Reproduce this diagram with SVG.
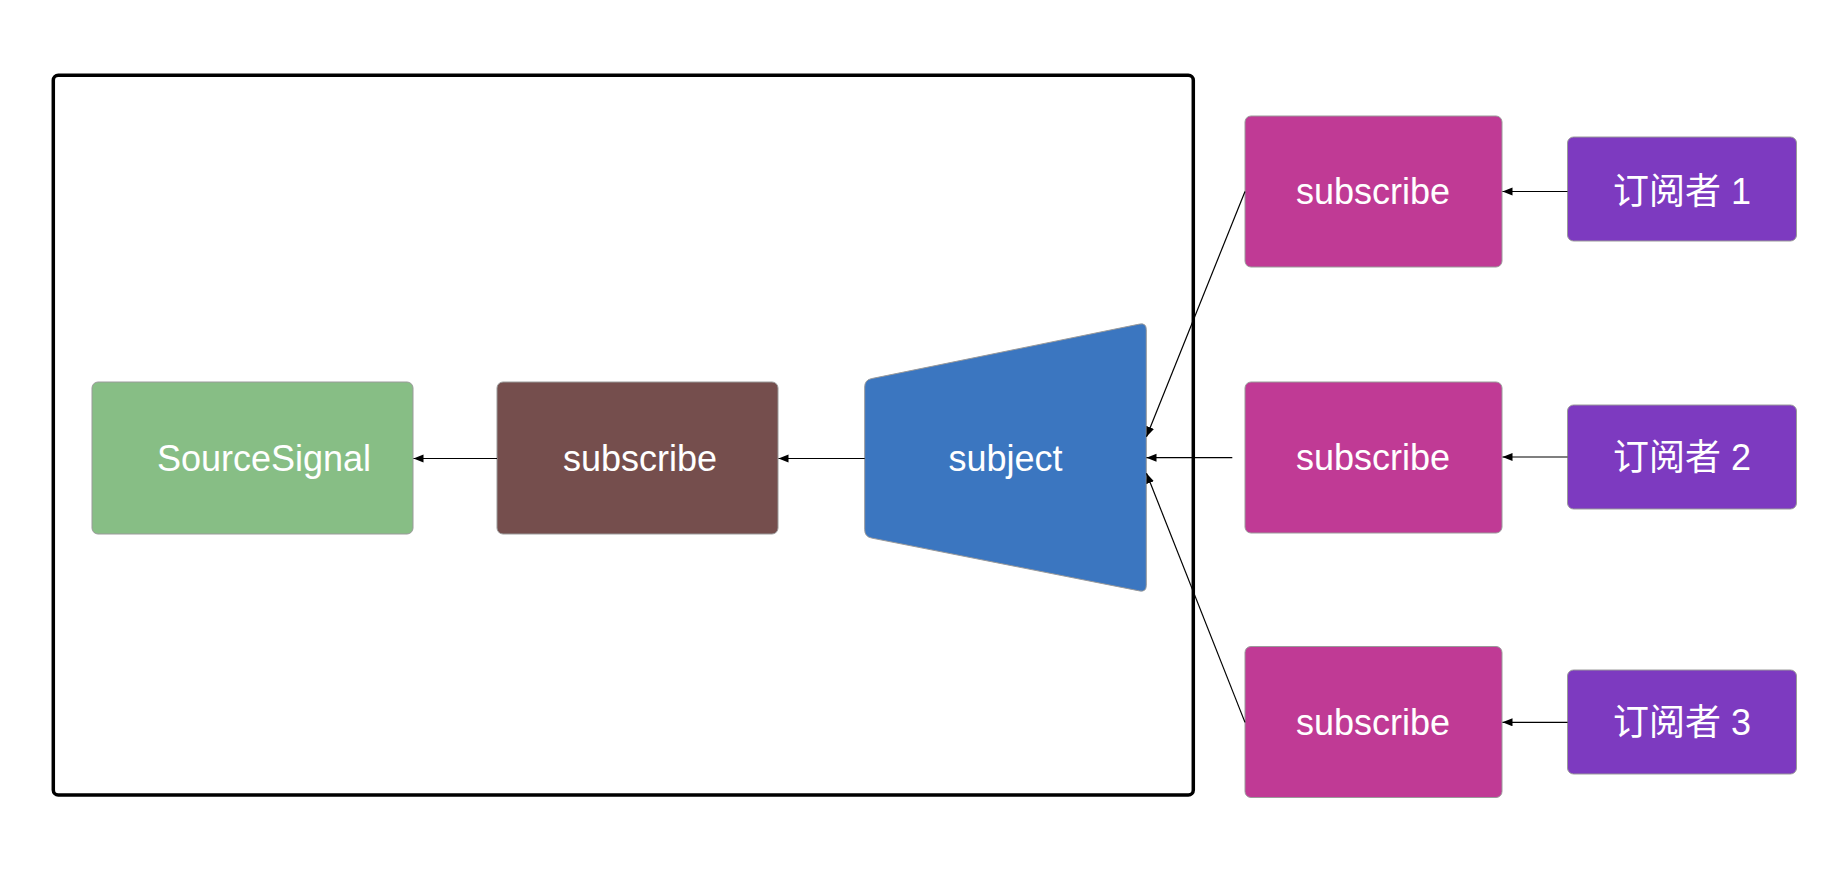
<svg xmlns="http://www.w3.org/2000/svg" width="1830" height="884" viewBox="0 0 1830 884">
<style>
.node{stroke:#9a9a9a;stroke-width:1}
.lbl{font-family:"Liberation Sans","Noto Sans CJK SC",sans-serif;font-size:36px;fill:#ffffff;text-anchor:middle}
.edge{stroke:#000;stroke-width:1.2;fill:none;marker-end:url(#arr)}
</style>
<defs>
<marker id="arr" markerUnits="userSpaceOnUse" markerWidth="11" markerHeight="9" refX="10" refY="4" orient="auto">
<path d="M0,0 L10,4 L0,8 Z" fill="#000"/>
</marker>
</defs>
<rect width="1830" height="884" fill="#ffffff"/>
<g id="container">
<rect x="53.3" y="75.3" width="1140" height="719.7" rx="5" fill="none" stroke="#000" stroke-width="3.5"/>
</g>
<g id="sourceSignal">
<rect class="node" x="92" y="382" width="321" height="152" rx="6" fill="#87BE85"/>
<text class="lbl" x="264" y="470.5">SourceSignal</text>
</g>
<g id="subscribeInner">
<rect class="node" x="497" y="382" width="281" height="152" rx="6" fill="#754E4D"/>
<text class="lbl" x="640" y="470.5">subscribe</text>
</g>
<g id="subject">
<path class="node" d="M871.56,378.6 L1139.44,324.1 Q1146.3,322.7 1146.3,329.7 L1146.3,585.3 Q1146.3,592.3 1139.43,590.9 L871.57,538.06 Q864.7,536.7 864.7,529.7 L864.7,387 Q864.7,380 871.56,378.6 Z" fill="#3B76C0"/>
<text class="lbl" x="1005.5" y="470.5">subject</text>
</g>
<g id="subscribe1">
<rect class="node" x="1245" y="116" width="257" height="151" rx="6" fill="#C03A95"/>
<text class="lbl" x="1373" y="203.5">subscribe</text>
</g>
<g id="subscribe2">
<rect class="node" x="1245" y="382" width="257" height="151" rx="6" fill="#C03A95"/>
<text class="lbl" x="1373" y="470">subscribe</text>
</g>
<g id="subscribe3">
<rect class="node" x="1245" y="646.5" width="257" height="151" rx="6" fill="#C03A95"/>
<text class="lbl" x="1373" y="734.5">subscribe</text>
</g>
<g id="subscriber1">
<rect class="node" x="1567.5" y="137" width="229" height="104" rx="6" fill="#7D3AC0"/>
<text class="lbl" x="1682" y="203.5">订阅者 1</text>
</g>
<g id="subscriber2">
<rect class="node" x="1567.5" y="405" width="229" height="104" rx="6" fill="#7D3AC0"/>
<text class="lbl" x="1682" y="469.5">订阅者 2</text>
</g>
<g id="subscriber3">
<rect class="node" x="1567.5" y="670" width="229" height="104" rx="6" fill="#7D3AC0"/>
<text class="lbl" x="1682" y="734.5">订阅者 3</text>
</g>
<g id="connectors">
<line class="edge" x1="497" y1="458.5" x2="413.5" y2="458.5"/>
<line class="edge" x1="864.7" y1="458.5" x2="778.5" y2="458.5"/>
<line class="edge" x1="1245" y1="191.5" x2="1146.5" y2="436.7"/>
<line class="edge" x1="1232.3" y1="457.7" x2="1146.5" y2="457.7"/>
<line class="edge" x1="1245" y1="722.4" x2="1146.5" y2="473.3"/>
<line class="edge" x1="1567.5" y1="191.5" x2="1502.5" y2="191.5"/>
<line class="edge" x1="1567.5" y1="457" x2="1502.5" y2="457"/>
<line class="edge" x1="1567.5" y1="722.3" x2="1502.5" y2="722.3"/>
</g>
</svg>
